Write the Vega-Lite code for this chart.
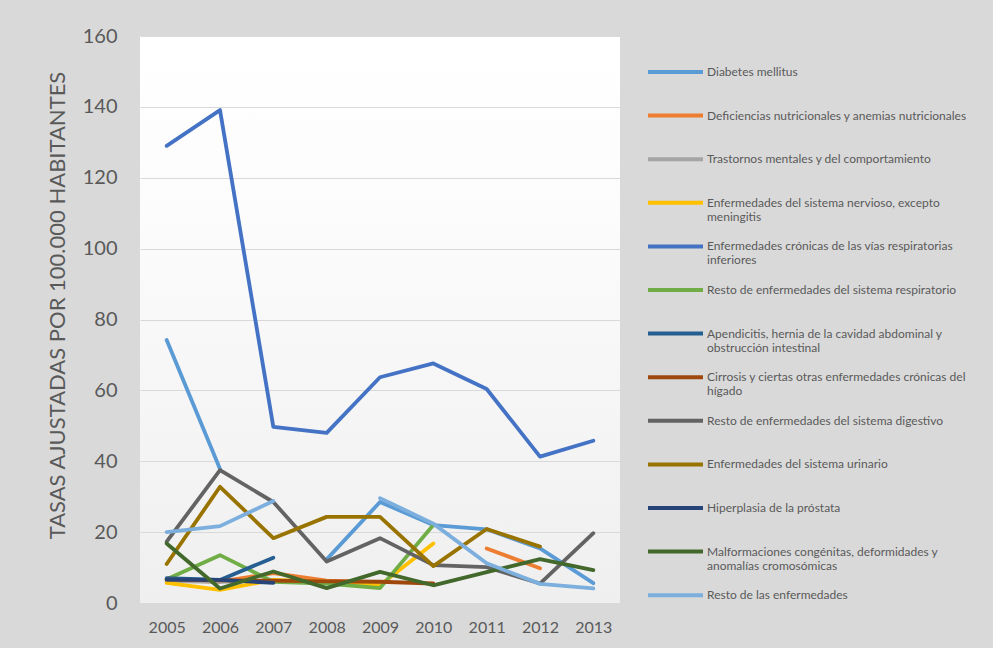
{
  "$schema": "https://vega.github.io/schema/vega-lite/v6.json",
  "autosize": "none",
  "width": 480,
  "height": 567,
  "padding": {"left": 140, "top": 36, "right": 373, "bottom": 45},
  "background": "#d9d9d9",
  "config": {
    "view": {"stroke": null, "fill": {"gradient": "linear", "x1": 0, "y1": 0, "x2": 0, "y2": 1, "stops": [{"offset": 0, "color": "#ffffff"}, {"offset": 0.3, "color": "#fcfcfc"}, {"offset": 1, "color": "#efefef"}]}},
    "font": "Lato"
  },
  "datasets": {
    "rates": [
      {"year": "2005", "cause": "Diabetes mellitus", "rate": 74.2},
      {"year": "2006", "cause": "Diabetes mellitus", "rate": 37.8},
      {"year": "2007", "cause": "Diabetes mellitus", "rate": null},
      {"year": "2008", "cause": "Diabetes mellitus", "rate": 12.3},
      {"year": "2009", "cause": "Diabetes mellitus", "rate": 28.5},
      {"year": "2010", "cause": "Diabetes mellitus", "rate": 22.0},
      {"year": "2011", "cause": "Diabetes mellitus", "rate": 20.8},
      {"year": "2012", "cause": "Diabetes mellitus", "rate": 15.4},
      {"year": "2013", "cause": "Diabetes mellitus", "rate": 5.6},
      {"year": "2005", "cause": "Deficiencias nutricionales y anemias nutricionales", "rate": 6.5},
      {"year": "2006", "cause": "Deficiencias nutricionales y anemias nutricionales", "rate": 6.0},
      {"year": "2007", "cause": "Deficiencias nutricionales y anemias nutricionales", "rate": 8.4},
      {"year": "2008", "cause": "Deficiencias nutricionales y anemias nutricionales", "rate": 6.3},
      {"year": "2009", "cause": "Deficiencias nutricionales y anemias nutricionales", "rate": 5.9},
      {"year": "2010", "cause": "Deficiencias nutricionales y anemias nutricionales", "rate": null},
      {"year": "2011", "cause": "Deficiencias nutricionales y anemias nutricionales", "rate": 15.4},
      {"year": "2012", "cause": "Deficiencias nutricionales y anemias nutricionales", "rate": 9.8},
      {"year": "2005", "cause": "Trastornos mentales y del comportamiento", "rate": 6.2},
      {"year": "2006", "cause": "Trastornos mentales y del comportamiento", "rate": 6.0},
      {"year": "2007", "cause": "Trastornos mentales y del comportamiento", "rate": 6.4},
      {"year": "2008", "cause": "Trastornos mentales y del comportamiento", "rate": 5.9},
      {"year": "2009", "cause": "Trastornos mentales y del comportamiento", "rate": 5.8},
      {"year": "2005", "cause": "Enfermedades del sistema nervioso, excepto meningitis", "rate": 5.7},
      {"year": "2006", "cause": "Enfermedades del sistema nervioso, excepto meningitis", "rate": 3.7},
      {"year": "2007", "cause": "Enfermedades del sistema nervioso, excepto meningitis", "rate": 6.5},
      {"year": "2008", "cause": "Enfermedades del sistema nervioso, excepto meningitis", "rate": 6.0},
      {"year": "2009", "cause": "Enfermedades del sistema nervioso, excepto meningitis", "rate": 5.0},
      {"year": "2010", "cause": "Enfermedades del sistema nervioso, excepto meningitis", "rate": 16.8},
      {"year": "2005", "cause": "Enfermedades crónicas de las vías respiratorias inferiores", "rate": 129.0},
      {"year": "2006", "cause": "Enfermedades crónicas de las vías respiratorias inferiores", "rate": 139.1},
      {"year": "2007", "cause": "Enfermedades crónicas de las vías respiratorias inferiores", "rate": 49.7},
      {"year": "2008", "cause": "Enfermedades crónicas de las vías respiratorias inferiores", "rate": 48.0},
      {"year": "2009", "cause": "Enfermedades crónicas de las vías respiratorias inferiores", "rate": 63.7},
      {"year": "2010", "cause": "Enfermedades crónicas de las vías respiratorias inferiores", "rate": 67.6},
      {"year": "2011", "cause": "Enfermedades crónicas de las vías respiratorias inferiores", "rate": 60.4},
      {"year": "2012", "cause": "Enfermedades crónicas de las vías respiratorias inferiores", "rate": 41.3},
      {"year": "2013", "cause": "Enfermedades crónicas de las vías respiratorias inferiores", "rate": 45.8},
      {"year": "2005", "cause": "Resto de enfermedades del sistema respiratorio", "rate": 6.7},
      {"year": "2006", "cause": "Resto de enfermedades del sistema respiratorio", "rate": 13.5},
      {"year": "2007", "cause": "Resto de enfermedades del sistema respiratorio", "rate": 6.0},
      {"year": "2008", "cause": "Resto de enfermedades del sistema respiratorio", "rate": 5.5},
      {"year": "2009", "cause": "Resto de enfermedades del sistema respiratorio", "rate": 4.2},
      {"year": "2010", "cause": "Resto de enfermedades del sistema respiratorio", "rate": 22.0},
      {"year": "2005", "cause": "Apendicitis, hernia de la cavidad abdominal y obstrucción intestinal", "rate": 7.0},
      {"year": "2006", "cause": "Apendicitis, hernia de la cavidad abdominal y obstrucción intestinal", "rate": 6.5},
      {"year": "2007", "cause": "Apendicitis, hernia de la cavidad abdominal y obstrucción intestinal", "rate": 12.8},
      {"year": "2005", "cause": "Cirrosis y ciertas otras enfermedades crónicas del hígado", "rate": 6.6},
      {"year": "2006", "cause": "Cirrosis y ciertas otras enfermedades crónicas del hígado", "rate": 6.4},
      {"year": "2007", "cause": "Cirrosis y ciertas otras enfermedades crónicas del hígado", "rate": 6.3},
      {"year": "2008", "cause": "Cirrosis y ciertas otras enfermedades crónicas del hígado", "rate": 6.1},
      {"year": "2009", "cause": "Cirrosis y ciertas otras enfermedades crónicas del hígado", "rate": 6.0},
      {"year": "2010", "cause": "Cirrosis y ciertas otras enfermedades crónicas del hígado", "rate": 5.5},
      {"year": "2005", "cause": "Resto de enfermedades del sistema digestivo", "rate": 17.3},
      {"year": "2006", "cause": "Resto de enfermedades del sistema digestivo", "rate": 37.5},
      {"year": "2007", "cause": "Resto de enfermedades del sistema digestivo", "rate": 28.5},
      {"year": "2008", "cause": "Resto de enfermedades del sistema digestivo", "rate": 11.7},
      {"year": "2009", "cause": "Resto de enfermedades del sistema digestivo", "rate": 18.3},
      {"year": "2010", "cause": "Resto de enfermedades del sistema digestivo", "rate": 10.7},
      {"year": "2011", "cause": "Resto de enfermedades del sistema digestivo", "rate": 10.1},
      {"year": "2012", "cause": "Resto de enfermedades del sistema digestivo", "rate": 5.5},
      {"year": "2013", "cause": "Resto de enfermedades del sistema digestivo", "rate": 19.7},
      {"year": "2005", "cause": "Enfermedades del sistema urinario", "rate": 11.0},
      {"year": "2006", "cause": "Enfermedades del sistema urinario", "rate": 32.8},
      {"year": "2007", "cause": "Enfermedades del sistema urinario", "rate": 18.3},
      {"year": "2008", "cause": "Enfermedades del sistema urinario", "rate": 24.3},
      {"year": "2009", "cause": "Enfermedades del sistema urinario", "rate": 24.3},
      {"year": "2010", "cause": "Enfermedades del sistema urinario", "rate": 10.4},
      {"year": "2011", "cause": "Enfermedades del sistema urinario", "rate": 20.9},
      {"year": "2012", "cause": "Enfermedades del sistema urinario", "rate": 15.9},
      {"year": "2005", "cause": "Hiperplasia de la próstata", "rate": 6.6},
      {"year": "2006", "cause": "Hiperplasia de la próstata", "rate": 6.5},
      {"year": "2007", "cause": "Hiperplasia de la próstata", "rate": 5.7},
      {"year": "2005", "cause": "Malformaciones congénitas, deformidades y anomalías cromosómicas", "rate": 16.8},
      {"year": "2006", "cause": "Malformaciones congénitas, deformidades y anomalías cromosómicas", "rate": 4.1},
      {"year": "2007", "cause": "Malformaciones congénitas, deformidades y anomalías cromosómicas", "rate": 8.9},
      {"year": "2008", "cause": "Malformaciones congénitas, deformidades y anomalías cromosómicas", "rate": 4.2},
      {"year": "2009", "cause": "Malformaciones congénitas, deformidades y anomalías cromosómicas", "rate": 8.8},
      {"year": "2010", "cause": "Malformaciones congénitas, deformidades y anomalías cromosómicas", "rate": 5.0},
      {"year": "2011", "cause": "Malformaciones congénitas, deformidades y anomalías cromosómicas", "rate": 8.7},
      {"year": "2012", "cause": "Malformaciones congénitas, deformidades y anomalías cromosómicas", "rate": 12.4},
      {"year": "2013", "cause": "Malformaciones congénitas, deformidades y anomalías cromosómicas", "rate": 9.3},
      {"year": "2005", "cause": "Resto de las enfermedades", "rate": 20.0},
      {"year": "2006", "cause": "Resto de las enfermedades", "rate": 21.7},
      {"year": "2007", "cause": "Resto de las enfermedades", "rate": 28.8},
      {"year": "2008", "cause": "Resto de las enfermedades", "rate": null},
      {"year": "2009", "cause": "Resto de las enfermedades", "rate": 29.6},
      {"year": "2010", "cause": "Resto de las enfermedades", "rate": 22.4},
      {"year": "2011", "cause": "Resto de las enfermedades", "rate": 11.2},
      {"year": "2012", "cause": "Resto de las enfermedades", "rate": 5.4},
      {"year": "2013", "cause": "Resto de las enfermedades", "rate": 4.1}
    ]
  },
  "data": {"name": "rates"},
  "mark": {"type": "line", "strokeWidth": 3.8, "strokeCap": "round", "strokeJoin": "round", "invalid": "break-paths-show-domains"},
  "encoding": {
    "x": {
      "field": "year", "type": "ordinal",
      "scale": {"type": "point", "padding": 0.5},
      "axis": {"title": null, "labelAngle": 0, "ticks": false, "domain": false, "labelFontSize": 16, "labelColor": "#595959", "labelPadding": 16, "grid": false}
    },
    "y": {
      "field": "rate", "type": "quantitative",
      "scale": {"domain": [0, 160], "nice": false},
      "axis": {"title": "TASAS AJUSTADAS POR 100.000 HABITANTES", "values": [0, 20, 40, 60, 80, 100, 120, 140, 160], "ticks": false, "domain": false, "labelFontSize": 20, "labelColor": "#595959", "labelPadding": 23, "gridColor": "#d9d9d9", "gridWidth": 1, "titleFontSize": 22, "titleFontWeight": "normal", "titleColor": "#595959", "titlePadding": 13, "titleY": 269, "titleAlign": "center"}
    },
    "color": {
      "field": "cause", "type": "nominal",
      "scale": {
        "domain": ["Diabetes mellitus", "Deficiencias nutricionales y anemias nutricionales", "Trastornos mentales y del comportamiento", "Enfermedades del sistema nervioso, excepto meningitis", "Enfermedades crónicas de las vías respiratorias inferiores", "Resto de enfermedades del sistema respiratorio", "Apendicitis, hernia de la cavidad abdominal y obstrucción intestinal", "Cirrosis y ciertas otras enfermedades crónicas del hígado", "Resto de enfermedades del sistema digestivo", "Enfermedades del sistema urinario", "Hiperplasia de la próstata", "Malformaciones congénitas, deformidades y anomalías cromosómicas", "Resto de las enfermedades"],
        "range": ["#5b9bd5", "#ed7d31", "#a5a5a5", "#ffc000", "#4472c4", "#70ad47", "#255e91", "#9e480e", "#636363", "#997300", "#264478", "#43682b", "#7cafdd"]
      },
      "legend": {
        "title": null, "orient": "none", "legendX": 506, "legendY": 16,
        "symbolType": "stroke", "symbolSize": 3025, "symbolStrokeWidth": 4,
        "labelFontSize": 12, "labelColor": "#595959", "labelLimit": 330, "labelOffset": 2,
        "labelBaseline": "middle", "labelLineHeight": 17, "rowPadding": 3.6, "clipHeight": 40,
        "labelExpr": "datum.label == 'Enfermedades del sistema nervioso, excepto meningitis' ? ['Enfermedades del sistema nervioso, excepto', 'meningitis'] : datum.label == 'Enfermedades crónicas de las vías respiratorias inferiores' ? ['Enfermedades crónicas de las vías respiratorias', 'inferiores'] : datum.label == 'Apendicitis, hernia de la cavidad abdominal y obstrucción intestinal' ? ['Apendicitis, hernia de la cavidad abdominal y', 'obstrucción intestinal'] : datum.label == 'Cirrosis y ciertas otras enfermedades crónicas del hígado' ? ['Cirrosis y ciertas otras enfermedades crónicas del', 'hígado'] : datum.label == 'Malformaciones congénitas, deformidades y anomalías cromosómicas' ? ['Malformaciones congénitas, deformidades y', 'anomalías cromosómicas'] : [datum.label, '']"
      }
    }
  }
}
